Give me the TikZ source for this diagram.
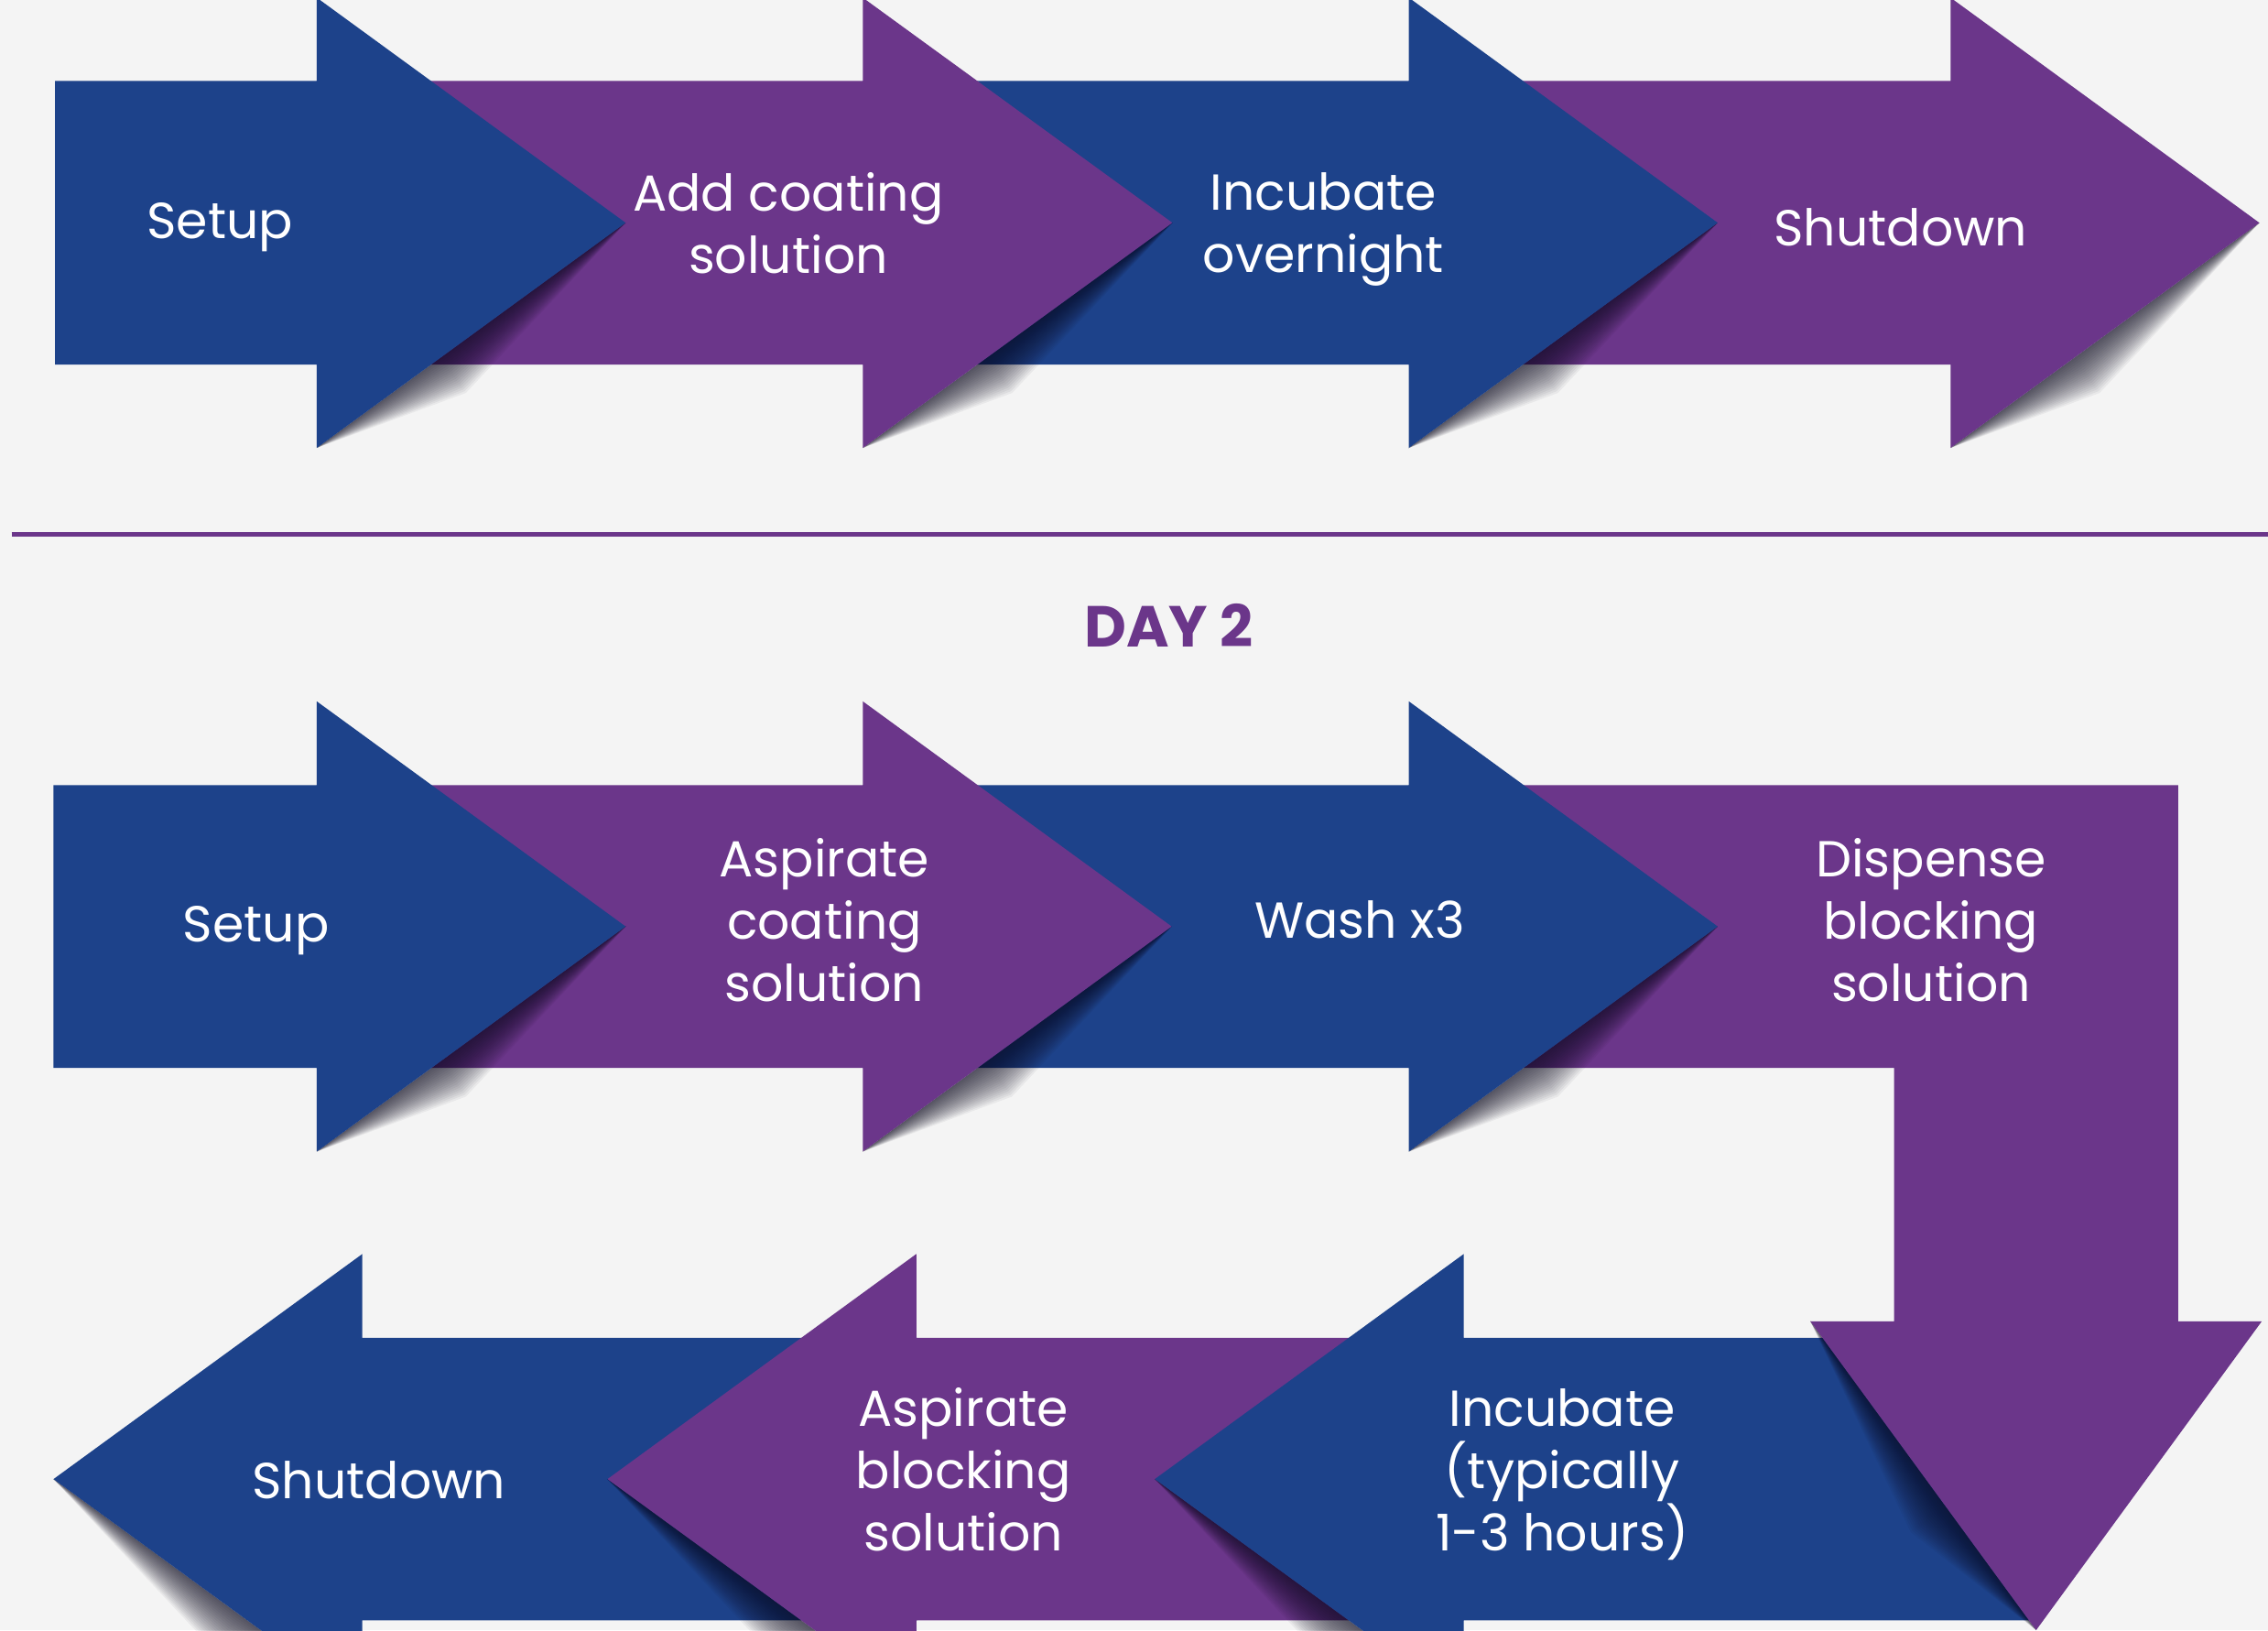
\documentclass[tikz,border=0pt]{standalone}
\usepackage{fontspec}
\setmainfont{Poppins}
\usepackage{tikz}
\usetikzlibrary{calc}
\definecolor{stepblue}{RGB}{29,66,138}
\definecolor{steppurple}{RGB}{107,54,138}
\definecolor{pagegray}{RGB}{244,244,244}
\definecolor{shadecol}{RGB}{12,10,30}
% soft shadow under one edge of an arrow head: #1 start, #2 end, #3 #4 outward normal
\newcommand{\headshade}[4]{%
  \foreach \w in {1.5,3,...,30}{\fill[shadecol,opacity=0.05] #1 -- ($#1!0.6!#2+({#3*\w},{#4*\w})$) -- #2 -- cycle;}}

\begin{document}
\begin{tikzpicture}[x=1pt,y=1pt,yscale=-1,xscale=1,
    steptext/.style={text=white,align=center,inner sep=0.75pt,font=\fontsize{35}{43}\selectfont}]
    %set diagram left start at 0, and has height of 1126.8
    \fill[pagegray] (0,0) rectangle (1568,1126.8);
    \useasboundingbox (0,0) rectangle (1568,1126.8);
    \clip (0,0) rectangle (1568,1126.8);

    %%% DAY 1 row
    %Shape: Right Arrow 4
    \headshade{(1562,154)}{(1348.5,309.6)}{0.589}{0.808}
    \fill[steppurple] (974,56) -- (1348.5,56) -- (1348.5,-1.6) -- (1562,154) -- (1348.5,309.6) -- (1348.5,252) -- (974,252) -- cycle ;
    %Shape: Right Arrow 3
    \headshade{(1187.5,154)}{(974,309.6)}{0.589}{0.808}
    \fill[stepblue] (596.5,56) -- (974,56) -- (974,-1.6) -- (1187.5,154) -- (974,309.6) -- (974,252) -- (596.5,252) -- cycle ;
    %Shape: Right Arrow 2
    \headshade{(810.5,154)}{(596.5,309.6)}{0.589}{0.808}
    \fill[steppurple] (219,56) -- (596.5,56) -- (596.5,-1.6) -- (810.5,154) -- (596.5,309.6) -- (596.5,252) -- (219,252) -- cycle ;
    %Shape: Right Arrow 1
    \headshade{(432.5,154)}{(219,309.6)}{0.589}{0.808}
    \fill[stepblue] (38,56) -- (219,56) -- (219,-1.6) -- (432.5,154) -- (219,309.6) -- (219,252) -- (38,252) -- cycle ;

    %Straight Lines: divider
    \draw[steppurple,line width=3.2] (8,369.6) -- (1568,369.6) ;
    % Text Node
    \node[text=steppurple,font=\fontsize{40}{48}\selectfont\bfseries] (day2) at (808,432) {DAY 2};

    %%% DAY 2, lower row (pointing left)
    %Shape: Left Arrow 3
    \headshade{(37,1022.4)}{(250.5,1178)}{-0.589}{0.808}
    \fill[stepblue] (634,924.8) -- (250.5,924.8) -- (250.5,866.8) -- (37,1022.4) -- (250.5,1178) -- (250.5,1120) -- (634,1120) -- cycle ;
    %Shape: Left Arrow 2
    \headshade{(420,1022.4)}{(633.5,1178)}{-0.589}{0.808}
    \fill[steppurple] (1012,924.8) -- (633.5,924.8) -- (633.5,866.8) -- (420,1022.4) -- (633.5,1178) -- (633.5,1120) -- (1012,1120) -- cycle ;
    %Shape: Left Arrow 1
    \headshade{(798.4,1022.4)}{(1012,1178)}{-0.589}{0.808}
    \fill[stepblue] (1407.7,924.8) -- (1012,924.8) -- (1012,866.8) -- (798.4,1022.4) -- (1012,1178) -- (1012,1120) -- (1407.7,1120) -- cycle ;

    %%% DAY 2, upper row
    %Shape: Bent Arrow
    \headshade{(1251.6,913.3)}{(1407.7,1126.8)}{-0.807}{0.590}
    \fill[steppurple] (974,542.7) -- (1505.8,542.7) -- (1505.8,913.3) -- (1563.7,913.3) -- (1407.7,1126.8) -- (1251.6,913.3) -- (1309.5,913.3) -- (1309.5,738.1) -- (974,738.1) -- cycle ;
    %Shape: Right Arrow 3
    \headshade{(1187.5,640.4)}{(974,796)}{0.589}{0.808}
    \fill[stepblue] (596.5,542.7) -- (974,542.7) -- (974,484.8) -- (1187.5,640.4) -- (974,796) -- (974,738.1) -- (596.5,738.1) -- cycle ;
    %Shape: Right Arrow 2
    \headshade{(810,640.4)}{(596.5,796)}{0.589}{0.808}
    \fill[steppurple] (219,542.7) -- (596.5,542.7) -- (596.5,484.8) -- (810,640.4) -- (596.5,796) -- (596.5,738.1) -- (219,738.1) -- cycle ;
    %Shape: Right Arrow 1
    \headshade{(432.5,640.4)}{(219,796)}{0.589}{0.808}
    \fill[stepblue] (37,542.7) -- (219,542.7) -- (219,484.8) -- (432.5,640.4) -- (219,796) -- (219,738.1) -- (37,738.1) -- cycle ;

    % Text Node
    \node[steptext] (setupa) at (152,157) {Setup};
    % Text Node
    \node[steptext] (coat) at (545,154) {Add coating\\solution};
    % Text Node
    \node[steptext] (night) at (915,158.5) {Incubate\\overnight};
    % Text Node
    \node[steptext] (shuta) at (1314,157) {Shutdown};
    % Text Node
    \node[steptext] (setupb) at (177,643) {Setup};
    % Text Node
    \node[steptext] (aspcoat) at (570,636) {Aspirate\\coating\\solution};
    % Text Node
    \node[steptext] (wash) at (940,636) {Wash x3};
    % Text Node
    \node[steptext] (dispense) at (1335,636) {Dispense\\blocking\\solution};
    % Text Node
    \node[steptext] (incub) at (1080,1019) {Incubate\\(typically\\1-3 hours)};
    % Text Node
    \node[steptext] (aspblock) at (666,1016) {Aspirate\\blocking\\solution};
    % Text Node
    \node[steptext] (shutb) at (262,1023) {Shutdown};
\end{tikzpicture}
\end{document}
